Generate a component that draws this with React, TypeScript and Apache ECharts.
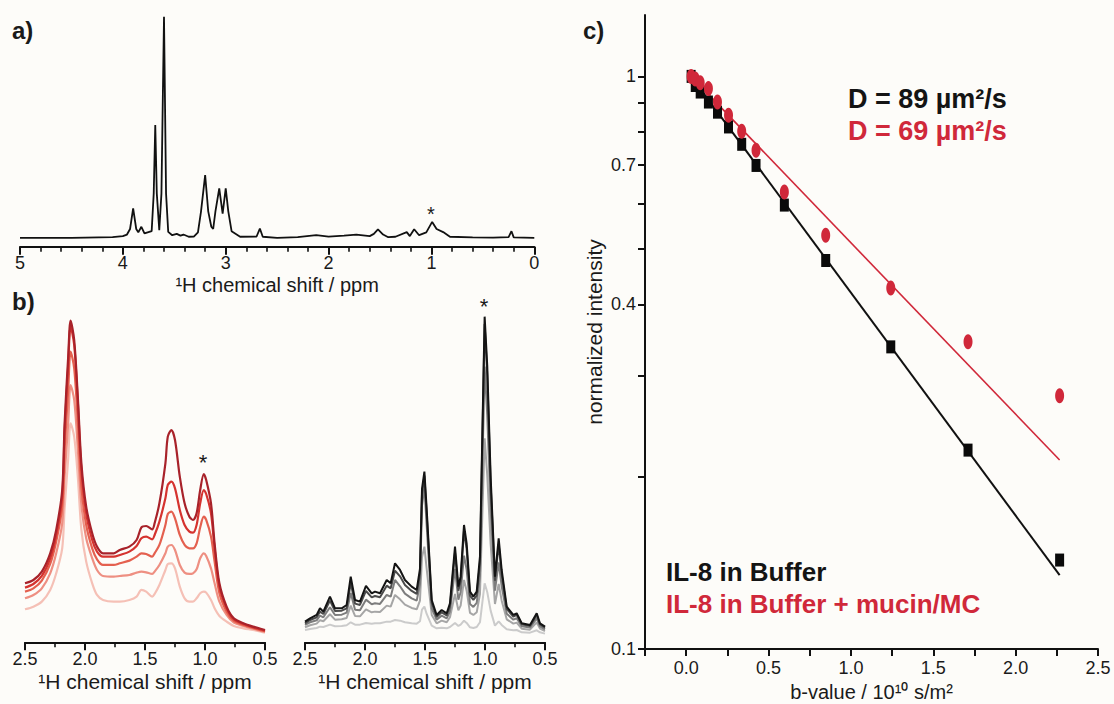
import React, { useEffect, useRef } from "react";
import * as echarts from "echarts";

const FONT = "'Liberation Sans', Arial, Helvetica, sans-serif";

// ---------- Panel a: 1H spectrum ----------
const ppmA = [5.0, 4.5, 4.1, 4.0, 3.96, 3.93, 3.90, 3.87, 3.85, 3.82, 3.79, 3.72, 3.70, 3.685, 3.67, 3.646, 3.625, 3.60, 3.58, 3.559, 3.52, 3.476, 3.44, 3.411, 3.36, 3.31, 3.27, 3.24, 3.20, 3.17, 3.14, 3.122, 3.10, 3.063, 3.03, 3.00, 2.975, 2.943, 2.86, 2.70, 2.668, 2.64, 2.5, 2.3, 2.12, 2.0, 1.85, 1.73, 1.6, 1.56, 1.52, 1.47, 1.42, 1.35, 1.24, 1.21, 1.168, 1.12, 1.05, 0.993, 0.95, 0.886, 0.82, 0.6, 0.4, 0.25, 0.222, 0.2, 0.0];
const intA = [0, 0, 0.3, 0.8, 1.5, 4, 13.3, 4, 2.5, 5, 2, 3, 20, 51, 20, 3.5, 20, 100, 20, 2.7, 1.2, 1.8, 1.0, 1.5, 0.5, 0.6, 2.5, 12, 28.4, 12, 5, 4, 12, 22.4, 11, 22.4, 12, 3, 0.5, 0.6, 4.2, 0.5, 0, 0.3, 1.2, 0.6, 1.0, 1.5, 0.8, 1.8, 3.8, 1.5, 0.3, 0.5, 2.6, 0.8, 3.9, 1.2, 2.5, 7.2, 4, 2.6, 0.5, 0.2, 0.1, 0.3, 3.0, 0.2, 0];

// ---------- Panel b (left): red spectra, dark -> light ----------
const ppmRed = [2.50, 2.43, 2.36, 2.29, 2.24, 2.19, 2.17, 2.14, 2.12, 2.09, 2.06, 2.03, 1.99, 1.94, 1.90, 1.85, 1.76, 1.71, 1.63, 1.57, 1.53, 1.49, 1.44, 1.42, 1.38, 1.33, 1.31, 1.28, 1.25, 1.21, 1.17, 1.13, 1.10, 1.07, 1.04, 1.01, 0.99, 0.95, 0.92, 0.88, 0.82, 0.76, 0.68, 0.60, 0.50];
const red1 = [17.7, 18.7, 21.2, 26.7, 33.7, 45.7, 65.7, 85.7, 96.5, 90.7, 73.7, 53.7, 40.7, 32.7, 28.7, 26.7, 26.7, 27.7, 28.7, 30.7, 34.5, 34.9, 33.9, 35.7, 41.7, 53.7, 61.7, 63.7, 60.7, 49.7, 41.7, 37.7, 36.7, 38.7, 45.7, 50.5, 48.7, 41.7, 29.7, 17.7, 10.7, 7.2, 5.7, 4.7, 3.7];
const red2 = [16.4, 17.5, 19.9, 25.2, 32.2, 43.7, 63.2, 83.2, 94.7, 89.2, 72.2, 51.7, 38.7, 30.7, 27.2, 25.7, 25.7, 26.2, 27.2, 28.9, 31.2, 31.7, 30.9, 32.2, 36.2, 43.2, 47.2, 48.2, 46.2, 39.7, 35.2, 33.2, 32.9, 35.2, 41.7, 45.7, 44.5, 38.7, 28.2, 16.7, 10.2, 6.9, 5.5, 4.5, 3.5];
const red3 = [15.2, 16.2, 18.5, 23.5, 30.2, 40.7, 57.7, 75.7, 87.2, 82.2, 66.2, 46.7, 35.2, 28.2, 24.9, 23.2, 23.2, 23.7, 24.5, 25.7, 26.7, 26.5, 25.7, 26.7, 29.2, 35.2, 38.5, 39.2, 37.2, 32.2, 29.2, 28.2, 28.2, 29.7, 34.5, 37.7, 36.7, 31.7, 24.2, 14.7, 9.2, 6.4, 5.2, 4.3, 3.3];
const red4 = [13.2, 14.2, 16.2, 20.7, 26.7, 35.7, 49.7, 65.7, 77.2, 72.7, 58.2, 41.2, 31.2, 25.2, 21.7, 19.9, 19.7, 19.9, 20.2, 20.9, 21.2, 21.0, 20.5, 21.2, 23.2, 26.7, 28.7, 29.2, 27.7, 23.2, 20.9, 20.5, 20.7, 21.9, 25.2, 26.7, 25.9, 22.2, 17.7, 12.2, 8.2, 5.9, 4.9, 4.1, 3.1];
const red5 = [9.9, 10.7, 12.2, 15.7, 20.7, 28.2, 40.2, 55.2, 65.7, 61.7, 49.7, 33.7, 24.2, 17.7, 14.2, 12.7, 12.2, 12.2, 12.7, 13.7, 15.7, 15.2, 13.7, 14.5, 17.2, 21.7, 23.5, 23.7, 22.2, 16.7, 13.2, 12.2, 12.2, 13.2, 14.7, 15.2, 14.9, 12.7, 10.2, 7.9, 6.2, 4.9, 4.2, 3.7, 2.9];
const redTraces = [red1, red2, red3, red4, red5];
const redColors = ["#a8222a", "#d5332f", "#e4604f", "#ee8f82", "#f5c0b6"];

// ---------- Panel b (right): grey spectra, dark -> light ----------
const ppmGrey = [2.5, 2.458, 2.403, 2.375, 2.347, 2.292, 2.25, 2.194, 2.153, 2.119, 2.083, 2.042, 1.992, 1.944, 1.917, 1.875, 1.819, 1.786, 1.75, 1.708, 1.667, 1.611, 1.569, 1.542, 1.525, 1.505, 1.486, 1.444, 1.403, 1.361, 1.319, 1.292, 1.25, 1.222, 1.203, 1.175, 1.153, 1.125, 1.097, 1.069, 1.042, 1.003, 0.981, 0.953, 0.917, 0.886, 0.861, 0.819, 0.764, 0.736, 0.694, 0.625, 0.569, 0.542, 0.5];
const grey1 = [6.2, 7.2, 8.2, 10.2, 9.2, 13.7, 10.2, 10.2, 11.2, 19.7, 12.7, 12.2, 16.9, 14.7, 15.2, 14.7, 18.7, 17.7, 23.7, 21.7, 18.7, 16.7, 15.7, 22.0, 46.0, 51.2, 40.0, 12.7, 8.2, 9.7, 8.7, 11.7, 28.7, 16.7, 19.7, 35.2, 29.7, 15.2, 13.7, 15.2, 25.7, 97.7, 82.7, 49.7, 19.7, 31.2, 21.7, 10.7, 8.2, 8.7, 5.7, 5.2, 8.7, 5.7, 4.7];
const grey2 = [5.7, 6.7, 7.5, 9.2, 8.5, 12.5, 9.4, 9.5, 10.2, 17.8, 11.6, 11.2, 15.4, 13.5, 13.9, 13.5, 17.0, 16.2, 21.5, 19.8, 17.2, 15.4, 14.5, 20.5, 44.5, 50.0, 38.5, 11.8, 7.6, 9.0, 8.1, 10.8, 27.0, 15.5, 18.3, 33.5, 28.0, 14.0, 12.7, 14.0, 24.0, 95.5, 80.0, 47.5, 18.5, 29.5, 20.3, 10.0, 7.7, 8.2, 5.4, 4.9, 8.2, 5.4, 4.4];
const grey3 = [5.2, 6.0, 6.6, 8.0, 7.5, 10.5, 8.2, 8.3, 8.9, 14.8, 9.8, 9.6, 12.8, 11.4, 11.7, 11.5, 14.2, 13.7, 18.7, 16.8, 14.6, 13.2, 12.5, 17.5, 41.0, 46.7, 35.0, 10.2, 6.8, 8.0, 7.2, 9.3, 22.0, 12.8, 15.0, 26.0, 21.8, 11.5, 10.6, 11.8, 20.0, 82.7, 68.0, 40.0, 15.5, 24.0, 16.8, 8.6, 6.8, 7.2, 4.8, 4.4, 7.2, 4.8, 3.9];
const grey4 = [4.5, 5.1, 5.6, 6.6, 6.3, 8.4, 6.8, 6.9, 7.3, 11.0, 7.9, 7.8, 9.9, 9.0, 9.2, 9.1, 11.0, 10.7, 14.2, 12.9, 11.3, 10.3, 9.9, 12.5, 25.5, 28.7, 22.0, 8.2, 5.7, 6.5, 6.0, 7.5, 14.5, 9.6, 11.0, 18.7, 15.5, 8.8, 8.2, 9.0, 14.5, 61.2, 50.0, 29.5, 11.5, 17.5, 12.5, 6.9, 5.6, 5.9, 4.1, 3.8, 6.0, 4.1, 3.4];
const grey5 = [3.7, 4.0, 4.3, 4.7, 4.6, 5.3, 4.8, 4.9, 5.1, 6.0, 5.3, 5.3, 5.8, 5.6, 5.7, 5.7, 6.2, 6.2, 6.7, 6.5, 6.0, 5.7, 5.6, 6.3, 9.8, 10.7, 8.5, 5.0, 4.2, 4.4, 4.2, 4.6, 5.8, 4.9, 5.3, 6.5, 5.8, 4.5, 4.3, 4.6, 6.0, 17.7, 15.0, 9.5, 5.0, 6.3, 5.2, 3.9, 3.6, 3.7, 3.0, 2.9, 3.6, 3.0, 2.6];
const greyTraces = [grey1, grey2, grey3, grey4, grey5];
const greyColors = ["#141414", "#4a4a4a", "#7d7d7d", "#a6a6a6", "#cbcbcb"];

// ---------- Panel c: diffusion decay ----------
const bValues = [0.03, 0.055, 0.085, 0.135, 0.19, 0.257, 0.337, 0.424, 0.596, 0.847, 1.242, 1.711, 2.267];
const bufferI = [1.0, 0.964, 0.939, 0.902, 0.866, 0.816, 0.761, 0.699, 0.596, 0.477, 0.337, 0.2225, 0.143];
const mucinI = [1.0, 0.99, 0.975, 0.952, 0.902, 0.855, 0.802, 0.743, 0.628, 0.528, 0.427, 0.344, 0.277];
const fitB = [0.03, 2.267];
const fitBuffer = [1.0, 0.1346];
const fitMucin = [1.0, 0.2138];
const cYLabels = [0.1, 0.4, 0.7, 1];
const cYTicks = [0.1, 0.2, 0.3, 0.4, 0.5, 0.6, 0.7, 0.8, 0.9, 1];

const RED = "#d0283a";
const INK = "#111111";

function pairs(xs: number[], ys: number[]) {
  return xs.map((x, i) => [x, ys[i]]);
}

function specAxis(grid: number, min: number, max: number, interval: number, minorSplit: number, fmt: (v: number) => string, gap: number, labelMargin: number, nameSize: number) {
  return {
    type: "value",
    gridIndex: grid,
    min,
    max,
    interval,
    inverse: true,
    name: "\u00b9H chemical shift / ppm",
    nameLocation: "middle",
    nameGap: gap,
    nameTextStyle: { fontFamily: FONT, fontSize: nameSize, color: "#1a1a1a" },
    axisLine: { show: true, onZero: false, lineStyle: { color: INK, width: 2 } },
    axisTick: { show: true, inside: false, length: 8, lineStyle: { color: INK, width: 2 } },
    minorTick: { show: true, splitNumber: minorSplit, length: 5, lineStyle: { color: INK, width: 1.6 } },
    splitLine: { show: false },
    minorSplitLine: { show: false },
    axisLabel: { fontFamily: FONT, fontSize: 18, color: "#1a1a1a", margin: labelMargin, formatter: fmt },
  };
}

function hiddenY(grid: number, min: number, max: number) {
  return { type: "value", gridIndex: grid, min, max, show: false, splitLine: { show: false } };
}

export default function App() {
  const ref = useRef<HTMLDivElement>(null);

  useEffect(() => {
    if (!ref.current) return;
    const chart = echarts.init(ref.current, null, { renderer: "svg" });

    const series: any[] = [];
    series.push({
      type: "line",
      xAxisIndex: 0,
      yAxisIndex: 0,
      data: pairs(ppmA, intA),
      showSymbol: false,
      symbol: "none",
      lineStyle: { color: INK, width: 1.8 },
      silent: true,
    });
    for (let i = redTraces.length - 1; i >= 0; i--) {
      series.push({
        type: "line",
        xAxisIndex: 1,
        yAxisIndex: 1,
        data: pairs(ppmRed, redTraces[i]),
        showSymbol: false,
        symbol: "none",
        smooth: 0.3,
        lineStyle: { color: redColors[i], width: 2.2 },
        silent: true,
      });
    }
    for (let i = greyTraces.length - 1; i >= 0; i--) {
      series.push({
        type: "line",
        xAxisIndex: 2,
        yAxisIndex: 2,
        data: pairs(ppmGrey, greyTraces[i]),
        showSymbol: false,
        symbol: "none",
        lineStyle: { color: greyColors[i], width: 2 },
        silent: true,
      });
    }
    series.push({
      type: "line",
      xAxisIndex: 3,
      yAxisIndex: 3,
      data: pairs(fitB, fitBuffer),
      showSymbol: false,
      symbol: "none",
      lineStyle: { color: INK, width: 2 },
      z: 2,
      silent: true,
    });
    series.push({
      type: "line",
      xAxisIndex: 3,
      yAxisIndex: 3,
      data: pairs(fitB, fitMucin),
      showSymbol: false,
      symbol: "none",
      lineStyle: { color: RED, width: 1.6 },
      z: 2,
      silent: true,
    });
    series.push({
      type: "scatter",
      xAxisIndex: 3,
      yAxisIndex: 3,
      data: pairs(bValues, bufferI),
      symbol: "rect",
      symbolSize: [9, 13],
      itemStyle: { color: "#0a0a0a", opacity: 1 },
      z: 3,
      silent: true,
    });
    series.push({
      type: "scatter",
      xAxisIndex: 3,
      yAxisIndex: 3,
      data: pairs(bValues, mucinI),
      symbol: "circle",
      symbolSize: [9, 15],
      itemStyle: { color: RED, opacity: 1 },
      z: 4,
      silent: true,
    });

    const txt = (text: string, x: number, y: number, size: number, color: string, bold = true, align = "left") => ({
      type: "text",
      x,
      y,
      silent: true,
      style: {
        text,
        fill: color,
        font: `${bold ? "bold " : ""}${size}px ${FONT}`,
        textAlign: align,
        textVerticalAlign: "middle",
      },
    });

    const option: any = {
      animation: false,
      backgroundColor: "#fdfcf9",
      grid: [
        { left: 20, top: 16.7, width: 514.3, height: 230, outerBoundsMode: "none", containLabel: false },
        { left: 25, top: 309, width: 240, height: 333.3, outerBoundsMode: "none", containLabel: false },
        { left: 305, top: 309, width: 240, height: 333.3, outerBoundsMode: "none", containLabel: false },
        { left: 645, top: 15, width: 453, height: 634, outerBoundsMode: "none", containLabel: false },
      ],
      xAxis: [
        specAxis(0, 0, 5, 1, 5, (v: number) => String(Math.round(v)), 28, 7, 20),
        specAxis(1, 0.5, 2.5, 0.5, 2, (v: number) => v.toFixed(1), 29, 8, 21),
        specAxis(2, 0.5, 2.5, 0.5, 2, (v: number) => v.toFixed(1), 29, 8, 21),
        {
          type: "value",
          gridIndex: 3,
          min: -0.25,
          max: 2.5,
          interval: 0.25,
          name: "b-value / 10\u00b9\u2070 s/m\u00b2",
          nameLocation: "middle",
          nameGap: 31,
          nameTextStyle: { fontFamily: FONT, fontSize: 20, color: "#1a1a1a" },
          axisLine: { show: true, onZero: false, lineStyle: { color: INK, width: 2 } },
          axisTick: { show: true, inside: false, length: 7, lineStyle: { color: INK, width: 2 } },
          splitLine: { show: false },
          axisLabel: {
            fontFamily: FONT,
            fontSize: 18,
            color: "#1a1a1a",
            margin: 10,
            formatter: (v: number) => {
              const r = Math.round(v * 4);
              if (r < 0 || r % 2 !== 0) return "";
              return v.toFixed(1);
            },
          },
        },
      ],
      yAxis: [
        hiddenY(0, -4, 100),
        hiddenY(1, 0, 100),
        hiddenY(2, 0, 100),
        {
          type: "log",
          logBase: 10,
          gridIndex: 3,
          min: 0.1,
          max: 1.28,
          name: "normalized intensity",
          nameLocation: "middle",
          nameRotate: 90,
          nameGap: 40,
          nameTextStyle: { fontFamily: FONT, fontSize: 21, color: "#1a1a1a" },
          axisLine: { show: true, onZero: false, lineStyle: { color: INK, width: 2 } },
          axisTick: { show: true, inside: false, length: 7, lineStyle: { color: INK, width: 2 }, customValues: cYTicks },
          minorTick: { show: false },
          splitLine: { show: false },
          axisLabel: {
            fontFamily: FONT,
            fontSize: 18,
            color: "#1a1a1a",
            margin: 9,
            customValues: cYLabels,
            formatter: (v: number) => String(+v.toFixed(2)),
          },
        },
      ],
      series,
      graphic: [
        txt("a)", 12, 30, 24, "#1a1a1a"),
        txt("b)", 12, 301, 24, "#1a1a1a"),
        txt("c)", 583, 30, 24, "#1a1a1a"),
        txt("*", 431, 214, 20, "#1a1a1a", false, "center"),
        txt("*", 203, 462, 22, "#1a1a1a", false, "center"),
        txt("*", 484, 306, 22, "#1a1a1a", false, "center"),
        txt("D = 89 \u00b5m\u00b2/s", 848, 99, 27, "#141414"),
        txt("D = 69 \u00b5m\u00b2/s", 848, 131, 27, RED),
        txt("IL-8 in Buffer", 666, 572, 26, "#141414"),
        txt("IL-8 in Buffer + mucin/MC", 666, 604, 26, RED),
      ],
    };

    chart.setOption(option);
    return () => chart.dispose();
  }, []);

  return (
    <div
      ref={ref}
      style={{ position: "absolute", left: 0, top: 0, width: 1114, height: 704 }}
    />
  );
}
